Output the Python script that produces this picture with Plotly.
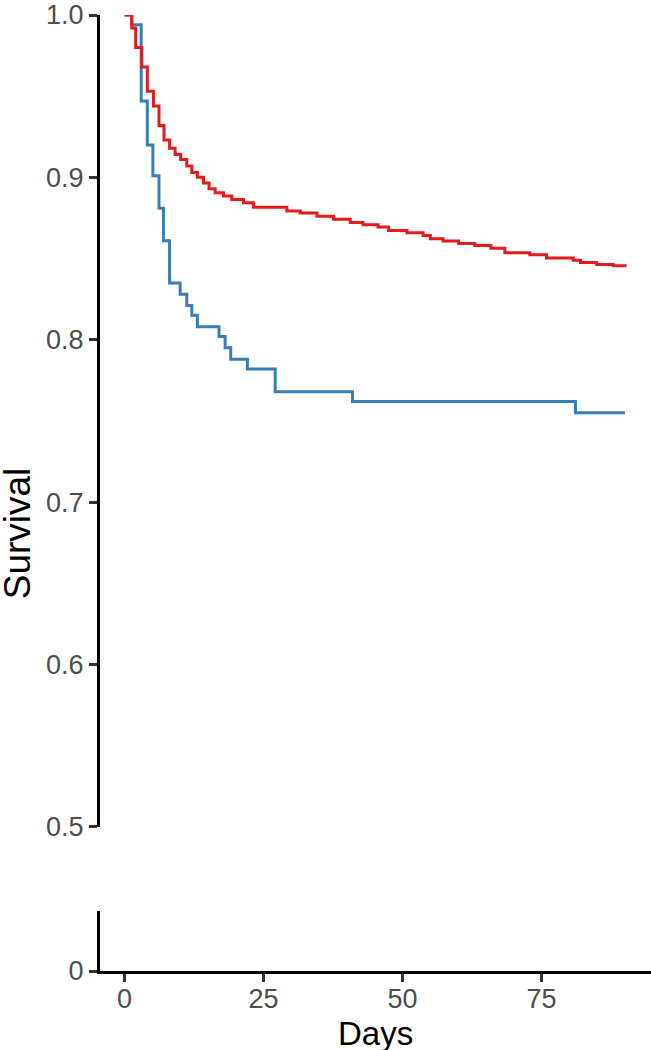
import plotly.graph_objects as go

# Kaplan-Meier step data (days, survival probability)
red_days = [0, 1.3, 2.0, 3.1, 4.1, 5.2, 6.2, 7.1, 8.1, 9.1, 10.1, 11.2, 12.1, 13.1,
            14.2, 15.2, 16.3, 17.8, 19.3, 21.4, 23.2, 29.2, 31.6, 34.6, 37.6, 40.6,
            42.9, 45.6, 47.5, 50.8, 53.7, 55.0, 57.3, 60.1, 63.0, 65.9, 68.4, 72.9,
            75.9, 80.7, 82.0, 84.9, 87.9, 90.3]
red_surv = [1.0, 0.992, 0.980, 0.968, 0.953, 0.944, 0.932, 0.923, 0.918, 0.914, 0.911,
            0.907, 0.903, 0.900, 0.8965, 0.893, 0.8905, 0.8885, 0.8863, 0.8843, 0.8816,
            0.8792, 0.878, 0.8761, 0.8742, 0.8722, 0.8708, 0.8694, 0.8673, 0.8659,
            0.8642, 0.8622, 0.8608, 0.8592, 0.8581, 0.8563, 0.8536, 0.8524, 0.8504,
            0.8489, 0.8475, 0.8463, 0.8455, 0.8455]

blue_days = [0, 1.3, 3.0, 4.1, 5.1, 6.2, 7.0, 8.1, 10.0, 11.2, 12.1, 13.1, 17.0, 18.1,
             19.1, 22.1, 27.1, 41.0, 81.1, 90.0]
blue_surv = [1.0, 0.994, 0.947, 0.920, 0.901, 0.881, 0.861, 0.835, 0.828, 0.821, 0.815,
             0.808, 0.802, 0.795, 0.788, 0.782, 0.768, 0.762, 0.755, 0.755]

upper_ticks = [0.5, 0.6, 0.7, 0.8, 0.9, 1.0]
upper_labels = ["0.5", "0.6", "0.7", "0.8", "0.9", "1.0"]
lower_ticks = [0]
lower_labels = ["0"]
x_ticks = [0, 25, 50, 75]

RED = "#E41A1C"
BLUE = "#377EB8"
FONT = "Liberation Sans, Arial, sans-serif"
TICKFONT = dict(family=FONT, size=27, color="#4D4D4D")

fig = go.Figure()
fig.add_trace(go.Scatter(x=blue_days, y=blue_surv, mode="lines", line_shape="hv",
                         line=dict(color=BLUE, width=3), xaxis="x", yaxis="y",
                         showlegend=False, hoverinfo="skip"))
fig.add_trace(go.Scatter(x=red_days, y=red_surv, mode="lines", line_shape="hv",
                         line=dict(color=RED, width=3), xaxis="x", yaxis="y",
                         showlegend=False, hoverinfo="skip"))
# invisible trace to activate lower axis segment
fig.add_trace(go.Scatter(x=[0], y=[0], mode="markers", marker=dict(opacity=0),
                         xaxis="x", yaxis="y2", showlegend=False, hoverinfo="skip"))

H_PLOT = 1050 - 10 - 79
axis_common = dict(showline=True, linecolor="black", linewidth=3, ticks="outside",
                   ticklen=8, tickwidth=2.5, tickcolor="#333333", showgrid=False,
                   zeroline=False, tickfont=TICKFONT, ticklabeloverflow="allow")

fig.update_layout(
    width=651, height=1050,
    margin=dict(l=100, r=0, t=10, b=79),
    paper_bgcolor="white", plot_bgcolor="white",
    xaxis=dict(range=[-4.41, 94.69], tickvals=x_ticks, anchor="y2",
               ticklabelstandoff=-6, **axis_common),
    yaxis=dict(range=[0.5, 1.0], domain=[(971 - 826) / H_PLOT, 1.0], tickvals=upper_ticks,
               ticktext=upper_labels, anchor="x", **axis_common),
    yaxis2=dict(range=[0, 0.05], domain=[0, 60 / H_PLOT], tickvals=lower_ticks,
                ticktext=lower_labels, anchor="x", **axis_common),
    annotations=[
        dict(text="Survival", xref="paper", yref="paper", x=-(100 - 17) / 551,
             y=(971 - 531) / H_PLOT, xanchor="center", yanchor="middle", textangle=-90,
             showarrow=False, font=dict(family=FONT, size=37, color="black")),
        dict(text="Days", xref="paper", yref="paper", x=0.5, y=-(1034 - 971) / H_PLOT,
             xanchor="center", yanchor="middle", showarrow=False,
             font=dict(family=FONT, size=33, color="black")),
    ],
)

fig.write_html("out.html", config={"displayModeBar": False},
               post_script="document.body.style.margin='0px';document.body.style.overflow='hidden';")
